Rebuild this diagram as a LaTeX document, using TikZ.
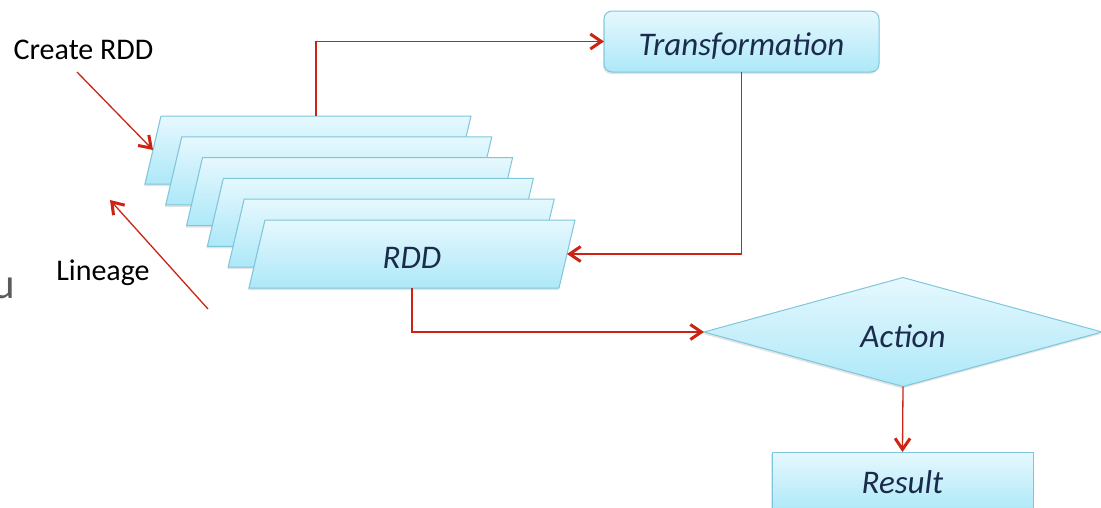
\documentclass[tikz,border=0pt]{standalone}
\usepackage{fontspec}
\setmainfont{Carlito}
\usetikzlibrary{shapes.geometric,arrows.meta,calc,shadows}
\definecolor{boxtop}{HTML}{E6F8FE}
\definecolor{boxbot}{HTML}{ADE8F8}
\definecolor{boxline}{HTML}{7EC6DC}
\definecolor{lbl}{HTML}{1B2B4B}
\definecolor{arr}{HTML}{CC2414}
\definecolor{ugray}{HTML}{5A5A5A}
\begin{document}
\begin{tikzpicture}[x=1pt,y=-1pt,
  shapebox/.style={draw=boxline, line width=1pt, top color=boxtop, bottom color=boxbot,
    inner sep=0pt, outer sep=0pt,
    drop shadow={shadow xshift=-1pt, shadow yshift=-2pt, opacity=0.22}},
  lbltext/.style={font=\fontsize{33}{38}\selectfont\itshape, text=lbl},
  plain/.style={font=\fontsize{30}{35}\selectfont, text=black},
  conn/.style={color=arr, draw=arr, line width=1.3pt,
    -{Straight Barb[length=11pt,width=15pt,line width=3pt]}},
  anchorbox/.style={rectangle, minimum width=310pt, minimum height=68pt, inner sep=0pt, outer sep=0pt}]
\useasboundingbox (0,0) rectangle (1101,507);
% stacked RDD parallelograms
\foreach \k in {0,...,5}{
  \pgfmathsetmacro\cx{308+20.8*\k}
  \pgfmathsetmacro\cy{150+20.8*\k}
  \path[shapebox] (\cx-147,\cy-34) -- (\cx+163,\cy-34) -- (\cx+147,\cy+34) -- (\cx-163,\cy+34) -- cycle;
  \node[anchorbox] (R\k) at (\cx,\cy) {};
}
\node[lbltext, text height=28pt, text depth=0pt, inner sep=0pt] (rddlabel) at (R5.center) {RDD};
% other shapes
\node[shapebox, rounded corners=8pt, minimum width=275pt, minimum height=61pt,
  lbltext, text height=27pt, text depth=0pt] (T) at (741.5,41.5) {Transformation};
\node[shapebox, diamond, aspect=3.6, minimum width=398pt, minimum height=109pt,
  lbltext, text height=30pt, text depth=0pt] (A) at (903,332) {Action};
\node[shapebox, minimum width=261pt, minimum height=60pt,
  lbltext, text height=22pt, text depth=0pt] (Res) at (902.5,482) {Result};
% plain labels
\node[plain, anchor=base] (cr) at (83.5,59) {Create RDD};
\node[plain, anchor=base] (lin) at (103,280) {Lineage};
\node[font=\fontsize{43}{50}\selectfont, text=ugray, anchor=base] (u) at (4,298) {u};
% connectors
\draw[conn] ([xshift=8pt]R0.north) |- (T.west);
\draw[conn] (T.south) |- (R5.east);
\draw[conn] (R5.south) |- (A.west);
\draw[conn] (A.south) -- (Res.north);
\coordinate (c1) at (77,72);
\draw[conn] (c1) -- (R0.west);
\coordinate (l1) at (208,309);
\coordinate (l2) at (110,200);
\draw[conn] (l1) -- (l2);
\end{tikzpicture}
\end{document}
